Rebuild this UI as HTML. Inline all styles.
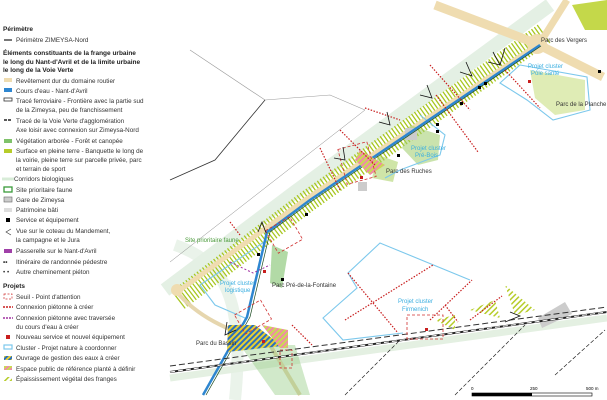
<!DOCTYPE html>
<html><head><meta charset="utf-8"><style>
html,body{margin:0;padding:0;background:#fff;}
svg{display:block;font-family:"Liberation Sans",sans-serif;}
.l{font-size:6.3px;fill:#333;}
.h{font-size:6.5px;font-weight:bold;fill:#222;}
.m{font-size:6px;fill:#333;}
.b{font-size:6px;fill:#3aaee0;}
.g{font-size:6px;fill:#4a9a3a;}
</style></head><body>
<svg width="607" height="400" viewBox="0 0 607 400" xmlns="http://www.w3.org/2000/svg">
<defs>
<pattern id="hy" width="4" height="4" patternUnits="userSpaceOnUse" patternTransform="rotate(45)"><rect width="1.5" height="4" fill="#b6cc2a"/></pattern>
<pattern id="hb" width="4" height="4" patternUnits="userSpaceOnUse" patternTransform="rotate(45)"><rect width="2" height="4" fill="#2a6fc0"/><rect x="2" width="2" height="4" fill="#e8d030"/></pattern>
<pattern id="hp" width="4" height="4" patternUnits="userSpaceOnUse" patternTransform="rotate(45)"><rect width="2" height="4" fill="#f08aa8"/><rect x="2" width="2" height="4" fill="#c8dc50"/></pattern>
</defs>
<path d="M175,245 C225,262 245,300 235,400" stroke="#eaf3ea" stroke-width="12" fill="none"/>
<path d="M165,290 L295,192 L550,5" stroke="#e4f0e4" stroke-width="14" fill="none"/>
<path d="M170,378 L607,318" stroke="#e4f0e2" stroke-width="7" fill="none"/>
<path d="M190,50 L265,100 L330,95 L365,110" stroke="#999" stroke-width="0.6" fill="none"/>
<path d="M170,180 L215,160 L265,100" stroke="#333" stroke-width="0.8" fill="none"/>
<path d="M170,262 L365,110" stroke="#888" stroke-width="0.5" fill="none"/>
<path d="M178,300 L305,203 L545,33" stroke="#a8c620" stroke-width="22" stroke-dasharray="1.3,2.2" fill="none"/>
<path d="M435,5 L535,43 L603,77" stroke="#efdcb0" stroke-width="9" fill="none"/>
<path d="M540,43 L567,0" stroke="#efdcb0" stroke-width="7" fill="none"/>
<circle cx="537" cy="44" r="10" fill="#efdcb0"/>
<path d="M180,290 L305,200 L530,50" stroke="#efdcb0" stroke-width="5" fill="none"/>
<path d="M175,290 C200,320 230,330 270,345 L300,395" stroke="#e6d6ae" stroke-width="4" fill="none"/>
<circle cx="177" cy="290" r="6" fill="#efdcb0"/>
<path d="M572,5 L607,0 L607,30 L585,30 Z" fill="#c4d84a"/>
<path d="M530,70 L585,80 L585,110 L555,115 L535,98 Z" fill="#b9d45a" opacity="0.45"/>
<path d="M410,125 L440,135 L438,160 L418,165 L402,148 Z" fill="#9fcc6a" opacity="0.55"/>
<path d="M378,155 L398,162 L393,182 L372,178 Z" fill="#a8d060" opacity="0.55"/>
<path d="M272,245 L288,252 L282,288 L270,283 Z" fill="#7fc26a" opacity="0.6"/>
<path d="M240,345 L295,345 L310,395 L275,395 Z" fill="#8cc87a" opacity="0.4"/>
<rect x="405" y="128" width="12" height="12" fill="#ccc"/>
<rect x="358" y="182" width="9" height="9" fill="#ccc"/>
<path d="M538,318 L565,302 L572,314 L542,328 Z" fill="#ccc"/>
<path d="M505,285 L535,310 L515,315 Z" fill="url(#hy)"/>
<path d="M470,310 L495,300 L500,318 Z" fill="url(#hy)"/>
<path d="M435,320 L455,315 L455,330 Z" fill="url(#hy)"/>
<path d="M520,65 L587,77 L590,110 L553,120 L527,100 L500,83 Z" fill="none" stroke="#7cc8ec" stroke-width="1.1"/>
<path d="M420,115 L445,135 L440,155 L400,170 L385,178" fill="none" stroke="#7cc8ec" stroke-width="1.1"/>
<path d="M470,280 L380,243 L348,273 L357,288 L323,318 L343,340 L403,333" fill="none" stroke="#7cc8ec" stroke-width="1.1"/>
<path d="M267,240 L200,285 L215,305 L245,318" fill="none" stroke="#7cc8ec" stroke-width="1.1"/>
<path d="M203,395 L247,317 L267,232 L310,200 L540,45" stroke="#2e86d0" stroke-width="2.5" fill="none"/>
<path d="M206,395 L250,317 L270,232 L312,201 L541,46" stroke="#1a4a20" stroke-width="0.7" fill="none"/>
<path d="M228,325 L255,325 L282,346 L227,352 Z" fill="url(#hb)"/>
<path d="M262,325 L288,330 L288,348 L280,348 Z" fill="url(#hp)"/>
<path d="M360,150 L385,165 L370,175 L355,160 Z" fill="url(#hp)"/>
<path d="M170,372 L607,312" stroke="#222" stroke-width="2" fill="none"/>
<path d="M170,372 L607,312" stroke="#fff" stroke-width="1" stroke-dasharray="5,3" fill="none"/>
<path d="M170,366 L607,307" stroke="#333" stroke-width="1" stroke-dasharray="6,3" fill="none"/>
<path d="M345,395 L400,340 M455,395 L525,325 M555,375 L605,330" stroke="#222" stroke-width="0.7" stroke-dasharray="4,2" fill="none"/>
<g stroke="#c81e1e" stroke-width="1.2" stroke-dasharray="1.5,1.5" fill="none">
<path d="M430,65 L470,110"/><path d="M436,95 L478,152"/><path d="M345,320 L433,265"/><path d="M348,273 L398,333"/><path d="M430,320 L472,280"/><path d="M445,305 L458,322"/><path d="M470,320 L502,296"/><path d="M292,325 L312,345"/><path d="M505,70 L540,108"/><path d="M365,108 L400,120"/><path d="M340,130 L375,165"/><path d="M320,148 L340,190"/><path d="M230,222 L240,235"/></g>
<path d="M230,262 L253,273 L270,265" stroke="#a030a0" stroke-width="1" stroke-dasharray="2,2" fill="none"/>
<g stroke="#d03030" stroke-width="0.8" stroke-dasharray="3,2" fill="none">
<rect x="407" y="315" width="36" height="24"/><rect x="270" y="222" width="28" height="26" transform="rotate(-30 284 235)"/><rect x="238" y="306" width="30" height="22" transform="rotate(-30 253 317)"/><rect x="342" y="145" width="30" height="36" transform="rotate(-15 357 163)"/><rect x="280" y="350" width="12" height="18"/></g>
<g fill="#000"><rect x="478" y="86" width="3" height="3"/><rect x="484" y="82" width="3" height="3"/><rect x="460" y="102" width="3" height="3"/><rect x="436" y="123" width="3" height="3"/><rect x="436" y="130" width="3" height="3"/><rect x="397" y="154" width="3" height="3"/><rect x="598" y="70" width="3" height="3"/><rect x="257" y="253" width="3" height="3"/><rect x="281" y="278" width="3" height="3"/><rect x="305" y="213" width="3" height="3"/></g>
<g fill="#c81e1e"><rect x="528" y="80" width="3" height="3"/><rect x="360" y="176" width="3" height="3"/><rect x="425" y="328" width="3" height="3"/><rect x="263" y="270" width="3" height="3"/><rect x="262" y="340" width="3" height="3"/></g>
<g stroke="#111" stroke-width="0.8" fill="none">
<path d="M493,52 L500,65 L488,62 M500,65 L505,48"/><path d="M466,62 L472,76 L460,72"/><path d="M427,85 L432,98 L420,95"/><path d="M387,112 L390,125 L379,122"/><path d="M343,147 L345,160 L334,158"/><path d="M258,232 L262,222 L266,233"/><path d="M227,322 L225,335 L236,330"/><path d="M505,322 L520,316 L510,312"/></g>
<text class="m" x="541" y="42">Parc des Vergers</text>
<text class="m" x="556" y="106">Parc de la Planche</text>
<text class="b" x="528" y="68">Projet cluster</text><text class="b" x="531" y="75">Pôle santé</text>
<text class="b" x="411" y="150">Projet cluster</text><text class="b" x="415" y="157">Pré-Bois</text>
<text class="m" x="386" y="173">Parc des Ruches</text>
<text class="g" x="185" y="242">Site prioritaire faune</text>
<text class="b" x="220" y="285">Projet cluster</text><text class="b" x="225" y="292">logistique</text>
<text class="m" x="272" y="287">Parc Pré-de-la-Fontaine</text>
<text class="b" x="398" y="303">Projet cluster</text><text class="b" x="402" y="311">Firmenich</text>
<text class="m" x="196" y="345">Parc du Bassin</text>
<rect x="472" y="393" width="120" height="3" fill="#fff" stroke="#000" stroke-width="0.6"/>
<rect x="472" y="393" width="60" height="3" fill="#000"/>
<text x="471" y="390" style="font-size:4.5px">0</text><text x="530" y="390" style="font-size:4.5px">250</text><text x="586" y="390" style="font-size:4.5px">500 m</text>
<text class="h" x="3" y="31">Périmètre</text>
<rect x="4" y="39" width="8" height="2" fill="#777"/><text class="l" x="16" y="42">Périmètre ZIMEYSA-Nord</text>
<text class="h" x="3" y="55">Éléments constituants de la frange urbaine</text>
<text class="h" x="3" y="64">le long du Nant-d'Avril et de la limite urbaine</text>
<text class="h" x="3" y="72">le long de la Voie Verte</text>
<rect x="4" y="78" width="8" height="4" fill="#efdcb0"/><text class="l" x="16" y="83">Revêtement dur du domaine routier</text>
<rect x="4" y="88" width="8" height="4" fill="#2e86d0"/><text class="l" x="16" y="93">Cours d'eau - Nant-d'Avril</text>
<rect x="4" y="98" width="8" height="3" fill="#fff" stroke="#333" stroke-width="0.8"/><text class="l" x="16" y="103">Tracé ferroviaire - Frontière avec la partie sud</text><text class="l" x="16" y="112">de la Zimeysa, peu de franchissement</text>
<path d="M4,120 L12,120" stroke="#222" stroke-width="1.4" stroke-dasharray="3,1"/><text class="l" x="16" y="123">Tracé de la Voie Verte d'agglomération</text><text class="l" x="16" y="132">Axe loisir avec connexion sur Zimeysa-Nord</text>
<rect x="4" y="139" width="8" height="4" fill="#7fc26a"/><text class="l" x="16" y="143">Végétation arborée - Forêt et canopée</text>
<rect x="4" y="149" width="8" height="4" fill="#b6cc2a"/><text class="l" x="16" y="153">Surface en pleine terre -  Banquette le long de</text><text class="l" x="16" y="162">la voirie, pleine terre sur parcelle privée, parc</text><text class="l" x="16" y="171">et terrain de sport</text>
<path d="M2,179 L14,179" stroke="#d8ecd8" stroke-width="3"/><text class="l" x="14" y="181">Corridors biologiques</text>
<rect x="4" y="187" width="8" height="5" fill="none" stroke="#3a9a3a" stroke-width="1.3"/><text class="l" x="16" y="192">Site prioritaire faune</text>
<rect x="4" y="197" width="8" height="5" fill="#ccc" stroke="#666" stroke-width="0.6"/><text class="l" x="16" y="202">Gare de Zimeysa</text>
<rect x="4" y="208" width="8" height="4" fill="#ddd"/><text class="l" x="16" y="212">Patrimoine bâti</text>
<rect x="6" y="218" width="4" height="4" fill="#000"/><text class="l" x="16" y="222">Service et équipement</text>
<path d="M11,229 L6,232 L11,235" stroke="#333" stroke-width="0.6" fill="none"/><text class="l" x="16" y="233">Vue sur le coteau du Mandement,</text><text class="l" x="16" y="242">la campagne et le Jura</text>
<rect x="4" y="249" width="8" height="4" fill="#a040a8"/><text class="l" x="16" y="253">Passerelle sur le Nant-d'Avril</text>
<text class="l" x="3" y="264" style="font-weight:bold">••</text><text class="l" x="16" y="264">Itinéraire de randonnée pédestre</text>
<text class="l" x="3" y="274">• •</text><text class="l" x="16" y="274">Autre cheminement piéton</text>
<text class="h" x="3" y="288">Projets</text>
<rect x="4" y="294" width="8" height="5" fill="none" stroke="#d03030" stroke-width="0.7" stroke-dasharray="2,1.5"/><text class="l" x="16" y="299">Seuil - Point d'attention</text>
<path d="M3,307 L13,307" stroke="#c81e1e" stroke-width="1.5" stroke-dasharray="2,1"/><text class="l" x="16" y="309">Connexion piétonne à créer</text>
<path d="M3,318 L13,318" stroke="#a030a0" stroke-width="1.5" stroke-dasharray="2,1"/><text class="l" x="16" y="320">Connexion piétonne avec traversée</text><text class="l" x="16" y="329">du cours d'eau à créer</text>
<rect x="6" y="335" width="4" height="4" fill="#c81e1e"/><text class="l" x="16" y="339">Nouveau service et nouvel équipement</text>
<rect x="4" y="345" width="8" height="4" fill="none" stroke="#7cc8ec" stroke-width="1.2"/><text class="l" x="16" y="350">Cluster - Projet nature à coordonner</text>
<rect x="4" y="356" width="8" height="4" fill="url(#hb)"/><text class="l" x="16" y="360">Ouvrage de gestion des eaux à créer</text>
<rect x="4" y="366" width="8" height="4" fill="url(#hp)"/><text class="l" x="16" y="371">Espace public de référence planté à définir</text>
<rect x="4" y="377" width="8" height="4" fill="url(#hy)"/><text class="l" x="16" y="381">Épaississement végétal des franges</text>
</svg>
</body></html>
